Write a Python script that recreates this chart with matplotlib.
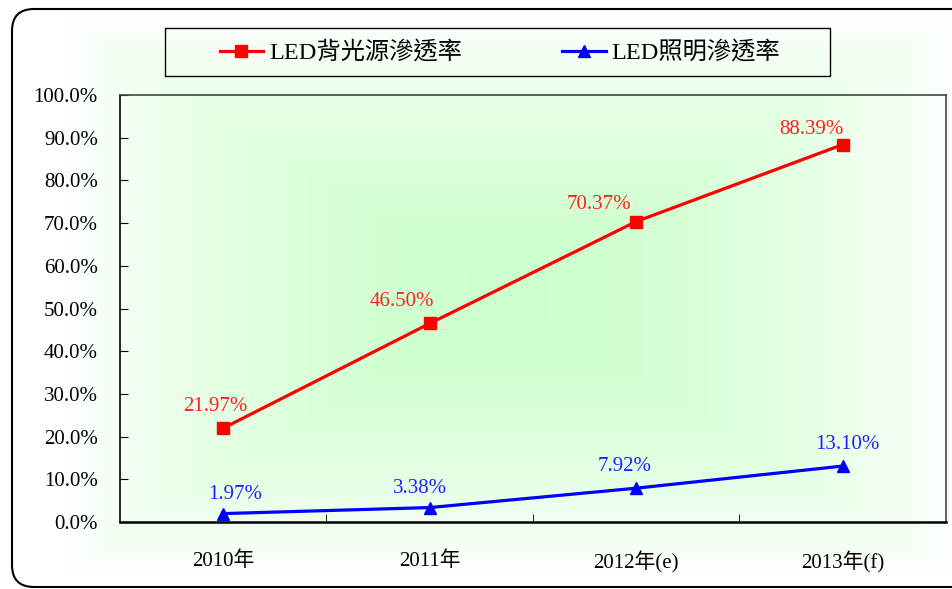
import numpy as np
import matplotlib
matplotlib.use('Agg')
import matplotlib.pyplot as plt
from matplotlib.patches import FancyBboxPatch, Rectangle
from matplotlib.ticker import FixedLocator, PercentFormatter

plt.rcParams['font.family'] = ['Liberation Serif', 'Noto Sans CJK TC', 'DejaVu Sans']

# datos
years = ['2010年', '2011年', '2012年(e)', '2013年(f)']
backlight = [21.97, 46.50, 70.37, 88.39]
lighting = [1.97, 3.38, 7.92, 13.10]
backlight_labels = ['21.97%', '46.50%', '70.37%', '88.39%']
lighting_labels = ['1.97%', '3.38%', '7.92%', '13.10%']

W, H = 953, 589
fig = plt.figure(figsize=(W / 100, H / 100), dpi=100)

# fondo: degradado verde desde el centro del área del gráfico
bg = fig.add_axes([0, 0, 1, 1], zorder=0)
yy, xx = np.mgrid[0:H, 0:W]
x0, x1, y0, y1 = 55, 960, 14, 578
cx, cy = (x0 + x1) / 2, (y0 + y1) / 2
d = np.maximum(np.abs(xx - cx) / ((x1 - x0) / 2), np.abs(yy - cy) / ((y1 - y0) / 2))
t = np.clip(d, 0, 1) ** 1.6
t = np.round(t * 24) / 24
img = np.ones((H, W, 3))
img[..., 0] = 0.80 + 0.20 * t
img[..., 2] = 0.80 + 0.20 * t
img[d > 1] = 1.0
bg.imshow(img, extent=[0, W, H, 0], aspect='auto')
bg.set_xlim(0, W)
bg.set_ylim(H, 0)
bg.axis('off')
bg.add_patch(FancyBboxPatch((12, 9), 990, 578, boxstyle='round,pad=0,rounding_size=22',
                            fill=False, edgecolor='black', linewidth=1.5))
# marco de la leyenda
bg.add_patch(Rectangle((165, 28), 665, 48, fill=False, edgecolor='black', linewidth=1.0))

ax = fig.add_axes([120 / W, 1 - 522 / H, 826 / W, 427 / H], zorder=1)
ax.patch.set_alpha(0)
x = np.arange(len(years))
ax.plot(x, backlight, color='#ff0000', lw=2.3, marker='s', ms=8, label='LED背光源滲透率')
ax.plot(x, lighting, color='#0000ff', lw=2.3, marker='^', ms=9, label='LED照明滲透率')

red_off = [(-8, 12), (-28, 12), (-37, 8), (-31, 6)]
blue_off = [(12, 10), (-10, 10), (-12, 12), (5, 12)]
for i in range(len(years)):
    ax.annotate(backlight_labels[i], (x[i], backlight[i]), xytext=red_off[i], textcoords='offset pixels',
                ha='center', va='bottom', color='#ff2020', fontsize=15)
    ax.annotate(lighting_labels[i], (x[i], lighting[i]), xytext=blue_off[i], textcoords='offset pixels',
                ha='center', va='bottom', color='#2020ff', fontsize=15)

ax.set_xlim(-0.5, 3.5)
ax.set_ylim(0, 100)
ax.set_yticks(np.arange(0, 101, 10))
ax.yaxis.set_major_formatter(PercentFormatter(decimals=1))
ax.set_xticks(x)
ax.set_xticklabels(years)
ax.xaxis.set_minor_locator(FixedLocator([0.5, 1.5, 2.5]))
ax.tick_params(axis='x', which='major', length=0, pad=21, labelsize=15)
ax.tick_params(axis='x', which='minor', direction='in', length=6)
ax.tick_params(axis='y', direction='in', length=6, pad=16, labelsize=15)
for s in ax.spines.values():
    s.set_linewidth(1.2)
ax.spines['right'].set_color('#444444')
ax.spines['top'].set_color('#444444')
ax.spines['bottom'].set_linewidth(1.8)

fig.legend(loc='center', bbox_to_anchor=(500 / W, 1 - 53 / H), ncol=2, fontsize=17.5,
           frameon=False, columnspacing=4.1, handlelength=1.8, handletextpad=0.25,
           borderaxespad=0)

plt.savefig('out.png', dpi=100)
plt.close()
